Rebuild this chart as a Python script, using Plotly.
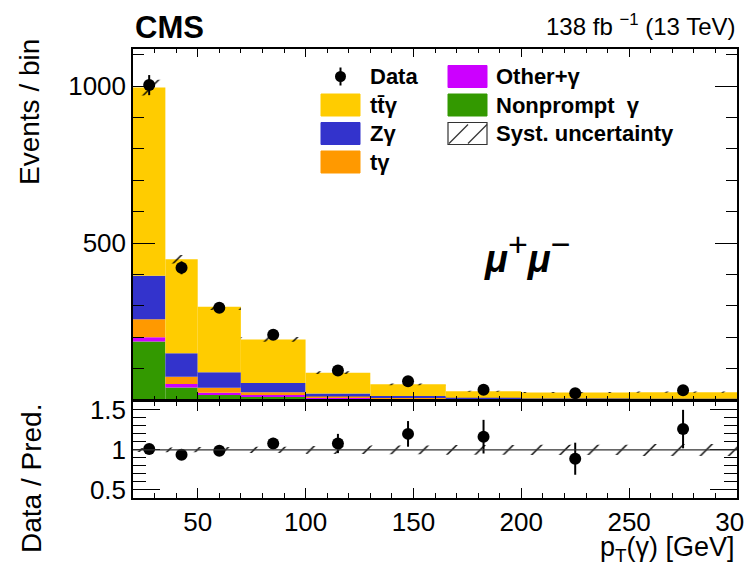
import numpy as np
import plotly.graph_objects as go

# ---------------- data ----------------
bin_edges = [20, 35, 50, 70, 100, 130, 165, 200, 250, 300]

nonprompt = [186, 40, 16, 11, 4, 3, 1.5, 1.0, 0.8]
other_g   = [14, 11, 7, 5, 3, 2, 1.0, 0.8, 0.6]
t_gamma   = [57, 23, 16, 9, 4, 3, 1.5, 1.0, 0.8]
z_gamma   = [139, 75, 49, 29, 10, 5, 3.0, 2.0, 1.6]
tt_gamma  = [599, 299, 209, 139, 66, 37, 21, 19, 21]

data_vals = [1003, 421, 294, 208, 94, 60, 32.6, 21.2, 31.2]
data_errs = [32, 20.5, 17, 14.4, 9.7, 7.7, 5.7, 4.6, 5.6]

ratio_vals = [1.01, 0.94, 0.99, 1.08, 1.08, 1.20, 1.165, 0.89, 1.26]
ratio_errs = [0.035, 0.05, 0.06, 0.07, 0.12, 0.16, 0.21, 0.20, 0.24]

syst_rel = [0.025, 0.03, 0.035, 0.04, 0.05, 0.055, 0.06, 0.065, 0.075]

x_tick_vals = [50, 100, 150, 200, 250, 300]
y_tick_vals = [0, 500, 1000]
y_tick_text = ["", "500", "1000"]
r_tick_vals = [0.5, 1, 1.5]
r_tick_text = ["0.5", "1", "1.5"]

# ---------------- styling ----------------
FONT = "Liberation Sans"
col_np = "#339900"
col_oth = "#CC00FF"
col_tg = "#FF9900"
col_zg = "#3333CC"
col_ttg = "#FFCC00"

# plot area in window pixels (page body has an 8px margin)
PL, PT, PW, PH = 133, 49, 604, 449


def px(xp):
    return (xp - PL) / PW


def py(yp):
    return 1 - (yp - PT) / PH


edges = np.array(bin_edges, dtype=float)
centers = (edges[:-1] + edges[1:]) / 2
widths = np.diff(edges)

fig = go.Figure()

components = [
    ("Nonprompt  γ", nonprompt, col_np),
    ("Other+γ", other_g, col_oth),
    ("tγ", t_gamma, col_tg),
    ("Zγ", z_gamma, col_zg),
    ("tt\u0304γ", tt_gamma, col_ttg),
]

base = np.zeros(len(centers))
for name, vals, color in components:
    vals = np.array(vals, dtype=float)
    fig.add_trace(go.Bar(
        x=centers, y=vals, base=base.copy(), width=widths,
        marker=dict(color=color, line=dict(width=0)),
        name=name, showlegend=False,
        xaxis="x", yaxis="y", hoverinfo="skip",
    ))
    base += vals
total = base

hatch = dict(shape="/", fgcolor="black", bgcolor="rgba(0,0,0,0)",
             size=20, solidity=0.07, fillmode="replace")

srel = np.array(syst_rel)
fig.add_trace(go.Bar(
    x=centers, y=2 * total * srel, base=total * (1 - srel), width=widths,
    marker=dict(color="rgba(0,0,0,0)", line=dict(width=0), pattern=hatch),
    name="Syst. uncertainty", showlegend=False,
    xaxis="x", yaxis="y", hoverinfo="skip",
))

fig.add_trace(go.Scatter(
    x=centers, y=data_vals, mode="markers",
    marker=dict(color="black", size=12),
    error_y=dict(type="data", array=data_errs, thickness=2, width=0, color="black"),
    name="Data", showlegend=False,
    xaxis="x", yaxis="y",
))

# ratio panel
fig.add_trace(go.Bar(
    x=centers, y=2 * srel, base=1 - srel, width=widths,
    marker=dict(color="rgba(0,0,0,0)", line=dict(width=0), pattern=hatch),
    showlegend=False, xaxis="x2", yaxis="y2", hoverinfo="skip",
))
fig.add_trace(go.Scatter(
    x=centers, y=ratio_vals, mode="markers",
    marker=dict(color="black", size=12),
    error_y=dict(type="data", array=ratio_errs, thickness=2, width=0, color="black"),
    showlegend=False, xaxis="x2", yaxis="y2",
))

shapes = [dict(type="line", xref="x2 domain", yref="y2", x0=0, x1=1, y0=1, y1=1,
               line=dict(color="#333333", width=1.2))]

axis_common = dict(showline=True, linecolor="black", linewidth=1.5, mirror="allticks",
                   ticks="inside", tickcolor="black", tickwidth=1, showgrid=False,
                   zeroline=False, automargin=False,
                   tickfont=dict(family=FONT, size=26, color="black"))

fig.update_layout(
    width=744, height=554,
    margin=dict(l=125, r=15, t=41, b=64, autoexpand=False),
    paper_bgcolor="white", plot_bgcolor="white",
    barmode="overlay",
    font=dict(family=FONT, color="black"),
    xaxis=dict(domain=[0, 1], anchor="y", range=[20, 300], tickvals=x_tick_vals,
               showticklabels=False, ticklen=8,
               minor=dict(dtick=10, tick0=0, ticklen=4, ticks="inside", tickcolor="black"),
               **axis_common),
    yaxis=dict(domain=[0.2183, 1], anchor="x", range=[0, 1118],
               tickvals=y_tick_vals, ticktext=y_tick_text, ticklen=22,
               minor=dict(dtick=100, tick0=0, ticklen=11, ticks="inside", tickcolor="black"),
               **axis_common),
    xaxis2=dict(domain=[0, 1], anchor="y2", range=[20, 300], tickvals=x_tick_vals,
                ticklen=10, matches="x", ticklabeloverflow="allow",
                minor=dict(dtick=10, tick0=0, ticklen=5, ticks="inside", tickcolor="black"),
                **axis_common),
    yaxis2=dict(domain=[0, 0.216], anchor="x2", range=[0.4, 1.61],
                tickvals=r_tick_vals, ticktext=r_tick_text, ticklen=27,
                minor=dict(dtick=0.1, tick0=0, ticklen=13, ticks="inside", tickcolor="black"),
                **axis_common),
    showlegend=False,
)

# ---------------- legend (two columns) ----------------
leg_col1 = [("Data", None), ("tt\u0304γ", col_ttg), ("Zγ", col_zg), ("tγ", col_tg)]
leg_col2 = [("Other+γ", col_oth), ("Nonprompt  γ", col_np), ("Syst. uncertainty", "hatch")]
row_y0, row_dy = 76.5, 28.5
box_w, box_h = 39, 22
annotations = []
for (bx, tx, items) in [(321, 368, leg_col1), (448, 494, leg_col2)]:
    for i, (label, kind) in enumerate(items):
        yc = row_y0 + i * row_dy
        if kind is None:
            xc = bx + box_w / 2
            shapes.append(dict(type="line", xref="paper", yref="paper",
                               x0=px(xc), x1=px(xc), y0=py(yc - 9), y1=py(yc + 9),
                               line=dict(color="black", width=2)))
            shapes.append(dict(type="circle", xref="paper", yref="paper",
                               x0=px(xc - 5.5), x1=px(xc + 5.5), y0=py(yc - 5.5), y1=py(yc + 5.5),
                               fillcolor="black", line=dict(color="black", width=0)))
        elif kind == "hatch":
            shapes.append(dict(type="rect", xref="paper", yref="paper",
                               x0=px(bx), x1=px(bx + box_w), y0=py(yc - box_h / 2), y1=py(yc + box_h / 2),
                               fillcolor="white", line=dict(color="#333333", width=1.2)))
            for sx in (0, 19):
                shapes.append(dict(type="line", xref="paper", yref="paper",
                                   x0=px(bx + sx + 1), x1=px(bx + sx + 20),
                                   y0=py(yc + box_h / 2 - 1), y1=py(yc - box_h / 2 + 2),
                                   line=dict(color="#333333", width=1.2)))
        else:
            shapes.append(dict(type="rect", xref="paper", yref="paper",
                               x0=px(bx), x1=px(bx + box_w), y0=py(yc - box_h / 2), y1=py(yc + box_h / 2),
                               fillcolor=kind, line=dict(color=kind, width=1)))
        annotations.append(dict(text="<b>%s</b>" % label, x=px(tx), y=py(yc),
                                xref="paper", yref="paper", xanchor="left", yanchor="middle",
                                showarrow=False, font=dict(family=FONT, size=22)))

annotations += [
    dict(text="<b>CMS</b>", x=0, y=py(47), xref="paper", yref="paper",
         xanchor="left", yanchor="bottom", showarrow=False,
         font=dict(family=FONT, size=31)),
    dict(text="138 fb <sup>−1</sup> (13 TeV)", x=1, y=py(42), xref="paper", yref="paper",
         xanchor="right", yanchor="bottom", showarrow=False,
         font=dict(family=FONT, size=24)),
    dict(text="Events / bin", x=px(30), y=py(112), xref="paper", yref="paper",
         xanchor="center", yanchor="middle", textangle=-90, showarrow=False,
         font=dict(family=FONT, size=28)),
    dict(text="Data / Pred.", x=px(31), y=py(479), xref="paper", yref="paper",
         xanchor="center", yanchor="middle", textangle=-90, showarrow=False,
         font=dict(family=FONT, size=28)),
    dict(text="p<sub>T</sub>(γ) [GeV]", x=1, y=py(549), xref="paper", yref="paper",
         xanchor="right", yanchor="middle", showarrow=False,
         font=dict(family=FONT, size=27)),
    dict(text="<b><i>μ</i></b><sup><span style='font-size:34px'>+</span></sup>"
              "<b><i>μ</i></b><sup><span style='font-size:34px'>−</span></sup>",
         x=px(527), y=py(253), xref="paper", yref="paper",
         xanchor="center", yanchor="middle", showarrow=False,
         font=dict(family=FONT, size=38)),
]
fig.update_layout(annotations=annotations, shapes=shapes)

fig.write_html("out.html")
